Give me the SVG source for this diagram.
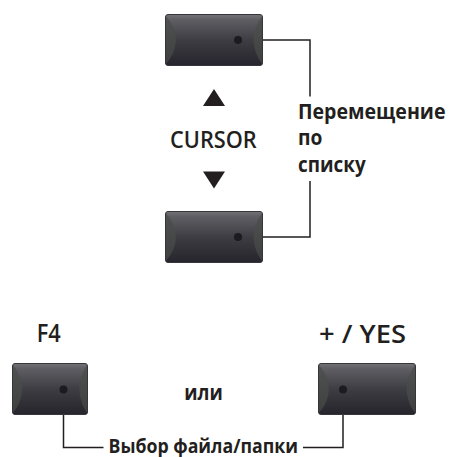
<svg xmlns="http://www.w3.org/2000/svg" width="449" height="457" viewBox="0 0 449 457">
<style>
.face{fill:url(#faceGrad);stroke:#36353a;stroke-width:1}
.side{fill:url(#sideGrad)}
.dot{fill:#1c1b1f}
.wire{fill:none;stroke:#231f20;stroke-width:1.5}
.lbl{font-family:"Open Sans","Liberation Sans",sans-serif;font-weight:600;fill:#231f20}
.note{font-family:"Open Sans","Liberation Sans",sans-serif;font-weight:700;fill:#231f20}
.tri{fill:#231f20}
</style>
<defs>
<linearGradient id="faceGrad" x1="0" y1="0" x2="0" y2="1">
<stop offset="0" stop-color="#727277"/>
<stop offset="0.1" stop-color="#5e5e63"/>
<stop offset="0.5" stop-color="#3e3d43"/>
<stop offset="1" stop-color="#26242c"/>
</linearGradient>
<linearGradient id="sideGrad" x1="0" y1="0" x2="0" y2="1">
<stop offset="0" stop-color="#505252"/>
<stop offset="1" stop-color="#3e4040"/>
</linearGradient>
</defs>

<g id="connectors">
<polyline class="wire" points="238,40 310,40 310,96.5"/>
<polyline class="wire" points="238,237 310,237 310,181"/>
<polyline class="wire" points="63.5,389.5 63.5,447.5 103.5,447.5"/>
<polyline class="wire" points="343,389.5 343,447.5 303,447.5"/>
</g>

<g id="btn-cursor-up" transform="translate(165,14)">
<rect class="face" x="0.5" y="0.5" width="97" height="51" rx="2.5"/>
<path class="side" d="M1,2.5 C14,16 14,36 1,49.5 Z"/>
<path class="side" d="M97,2.5 C86,16 86,36 97,49.5 Z"/>
<circle class="dot" cx="73" cy="26" r="4"/>
</g>

<g id="cursor-label">
<polygon class="tri" points="203,106 225,106 214,89"/>
<text class="lbl" x="170" y="148.3" font-size="23.5" textLength="86.7" lengthAdjust="spacingAndGlyphs">CURSOR</text>
<polygon class="tri" points="203,171.5 225,171.5 214,188.5"/>
</g>

<g id="btn-cursor-down" transform="translate(165,211)">
<rect class="face" x="0.5" y="0.5" width="97" height="51" rx="2.5"/>
<path class="side" d="M1,2.5 C14,16 14,36 1,49.5 Z"/>
<path class="side" d="M97,2.5 C86,16 86,36 97,49.5 Z"/>
<circle class="dot" cx="73" cy="26" r="4"/>
</g>

<g id="note-move">
<text class="note" x="298" y="119.3" font-size="20.5" textLength="147.5" lengthAdjust="spacingAndGlyphs">Перемещение</text>
<text class="note" x="298" y="145" font-size="20.5" textLength="24.4" lengthAdjust="spacingAndGlyphs">по</text>
<text class="note" x="298" y="171.5" font-size="20.5" textLength="67.7" lengthAdjust="spacingAndGlyphs">списку</text>
</g>

<g id="btn-f4" transform="translate(12,363)">
<text class="lbl" x="24.7" y="-20.7" font-size="25" textLength="24" lengthAdjust="spacingAndGlyphs">F4</text>
<rect class="face" x="0.5" y="0.5" width="75" height="51" rx="2.5"/>
<path class="side" d="M1,2.5 C13,16 13,36 1,49.5 Z"/>
<path class="side" d="M75,2.5 C65,16 65,36 75,49.5 Z"/>
<circle class="dot" cx="51.5" cy="26.5" r="4"/>
</g>

<g id="or-label">
<text class="note" x="184.3" y="399.5" font-size="22" textLength="38.5" lengthAdjust="spacingAndGlyphs">или</text>
</g>

<g id="btn-yes" transform="translate(318,363)">
<text class="lbl" x="1" y="-20.5" font-size="25" textLength="87" lengthAdjust="spacingAndGlyphs">+ / YES</text>
<rect class="face" x="0.5" y="0.5" width="97" height="51" rx="2.5"/>
<path class="side" d="M1,2.5 C14,16 14,36 1,49.5 Z"/>
<path class="side" d="M97,2.5 C86,16 86,36 97,49.5 Z"/>
<circle class="dot" cx="25" cy="26.5" r="4"/>
</g>

<g id="note-select">
<text class="note" x="108.5" y="453" font-size="20" textLength="189.5" lengthAdjust="spacingAndGlyphs">Выбор файла/папки</text>
</g>
</svg>
